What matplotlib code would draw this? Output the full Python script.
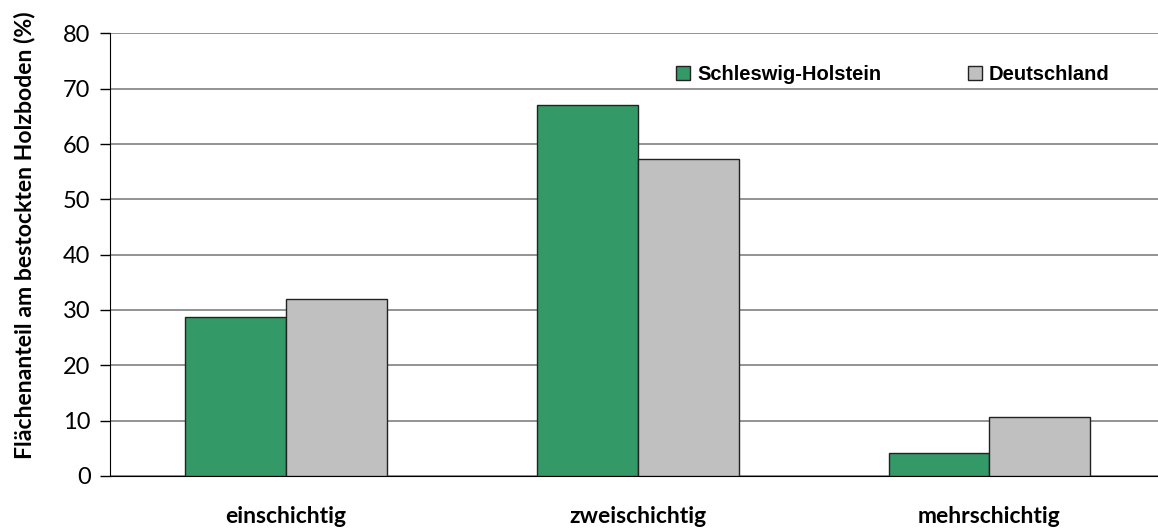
import matplotlib.pyplot as plt
import numpy as np

# data
categories = ["einschichtig", "zweischichtig", "mehrschichtig"]
schleswig_holstein = [28.8, 67.0, 4.1]
deutschland = [32.0, 57.3, 10.7]
series_names = ["Schleswig-Holstein", "Deutschland"]
yticks = [0, 10, 20, 30, 40, 50, 60, 70, 80]

fig = plt.figure(figsize=(11.58, 5.30), dpi=100)
ax = fig.add_axes([0.095, 0.102, 0.905, 0.835])

x = np.arange(len(categories))
w = 0.287
ax.bar(x - w / 2, schleswig_holstein, width=w, color="#339966",
       edgecolor="#222222", linewidth=1, label=series_names[0], zorder=3)
ax.bar(x + w / 2, deutschland, width=w, color="#c0c0c0",
       edgecolor="#222222", linewidth=1, label=series_names[1], zorder=3)

# axes
ax.set_xlim(-0.5, 2.479)
ax.set_ylim(0, 80)
ax.set_yticks(yticks)
ax.set_yticklabels([str(t) for t in yticks], fontfamily="Lato", fontsize=17)
ax.set_xticks(x)
ax.set_xticklabels(categories, fontfamily="Lato", fontweight="bold", fontsize=16.5)
ax.tick_params(axis="x", length=0, pad=22)
ax.tick_params(axis="y", length=7, width=1, direction="out", pad=7)

ax.set_ylabel("Flächenanteil am bestockten Holzboden (%)", fontfamily="Lato",
              fontweight="bold", fontsize=16.6)
ax.yaxis.set_label_coords(-0.0716, 0.545)

for s in ["top", "right"]:
    ax.spines[s].set_visible(False)
ax.spines["left"].set_color("black")
ax.spines["bottom"].set_color("black")

# grid
ax.grid(axis="y", color="#808080", linewidth=1.2, zorder=0)
ax.set_axisbelow(True)

# legend
leg = ax.legend(loc="center left", bbox_to_anchor=(0.5305, 0.907), ncol=2,
                frameon=False, borderpad=0, handlelength=0.7, handleheight=0.7,
                handletextpad=0.35, columnspacing=4.3,
                prop={"family": "Liberation Sans", "weight": "bold", "size": 14.5})

fig.savefig("out.png", dpi=100)
